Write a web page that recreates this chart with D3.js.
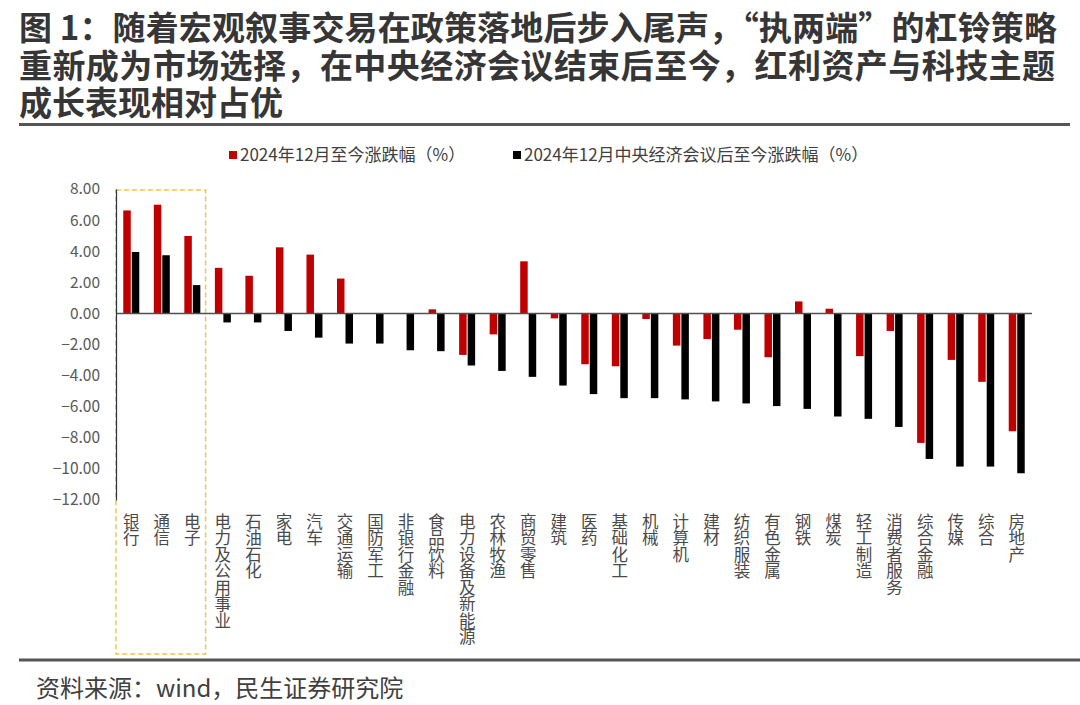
<!DOCTYPE html>
<html><head><meta charset="utf-8">
<script src="https://cdn.jsdelivr.net/npm/d3@7"></script>
<style>
html,body{margin:0;padding:0;background:#fff;}
svg{display:block;font-family:"Noto Sans CJK SC","Noto Sans",sans-serif;}
</style></head>
<body>
<svg id="chart" width="1080" height="705"></svg>
<script>
const categories = ["银行","通信","电子","电力及公用事业","石油石化","家电","汽车","交通运输","国防军工","非银行金融","食品饮料","电力设备及新能源","农林牧渔","商贸零售","建筑","医药","基础化工","机械","计算机","建材","纺织服装","有色金属","钢铁","煤炭","轻工制造","消费者服务","综合金融","传媒","综合","房地产"];
const sinceDec = [6.62,6.99,4.98,2.93,2.42,4.25,3.78,2.24,0.00,0.00,0.26,-2.67,-1.35,3.35,-0.32,-3.27,-3.40,-0.36,-2.07,-1.65,-1.05,-2.82,0.77,0.30,-2.75,-1.13,-8.33,-2.99,-4.40,-7.58];
const sinceCEWC = [3.95,3.74,1.82,-0.58,-0.58,-1.13,-1.56,-1.94,-1.94,-2.37,-2.43,-3.35,-3.70,-4.08,-4.64,-5.19,-5.45,-5.45,-5.53,-5.66,-5.79,-5.96,-6.14,-6.63,-6.78,-7.30,-9.36,-9.85,-9.85,-10.28];
const seriesNames = ["2024年12月至今涨跌幅（%）","2024年12月中央经济会议后至今涨跌幅（%）"];
const yTicks = [8,6,4,2,0,-2,-4,-6,-8,-10,-12];
const titleLines = ["图 1：随着宏观叙事交易在政策落地后步入尾声，“执两端”的杠铃策略","重新成为市场选择，在中央经济会议结束后至今，红利资产与科技主题","成长表现相对占优"];
const highlighted = ["银行","通信","电子"];
const sourceText = "资料来源：wind，民生证券研究院";

const svg = d3.select("#chart");
const colors = ["#c00000","#000000"];

// Title (one text block, three lines)
const titleBase = [40, 78, 115];
const titleLen = [1038, 1036, null];
const title = svg.append("text")
  .attr("font-size", 33).attr("font-weight", 700).attr("fill", "#363636");
title.selectAll("tspan").data(titleLines).join("tspan")
  .attr("x", 19).attr("y", (d,i)=>titleBase[i])
  .each(function(d,i){ if (titleLen[i]) d3.select(this).attr("textLength", titleLen[i]).attr("lengthAdjust","spacing"); })
  .text(d=>d);
svg.append("line").attr("x1",19).attr("x2",1070).attr("y1",124.5).attr("y2",124.5)
  .attr("stroke","#555").attr("stroke-width",3);

// Scales
const x = d3.scaleBand().domain(categories).range([116, 1032]).padding(0);
const sub = d3.scaleBand().domain([0,1]).range([-8, 8]).paddingInner(0.12);
const y = d3.scaleLinear().domain([-12, 8]).range([500, 189]);

// Highlight box
const bx0 = x(highlighted[0]);
const bx1 = x(highlighted[highlighted.length-1]) + x.bandwidth() - 2;
svg.append("rect").attr("x", bx0).attr("y", y(8)+1).attr("width", bx1-bx0).attr("height", 654-(y(8)+1))
  .attr("fill","none").attr("stroke","#eec353").attr("stroke-width",1.5).attr("stroke-dasharray","5,3");

// Bars
const series = [sinceDec, sinceCEWC];
series.forEach((vals, si) => {
  svg.append("g").selectAll("rect").data(vals).join("rect")
    .attr("x", (d,i)=> x(categories[i]) + x.bandwidth()/2 + sub(si))
    .attr("width", sub.bandwidth())
    .attr("y", d => y(Math.max(0,d)))
    .attr("height", d => Math.abs(y(d)-y(0)))
    .attr("fill", colors[si]);
});

// Zero line
svg.append("line").attr("x1",116).attr("x2",1032).attr("y1",y(0)).attr("y2",y(0))
  .attr("stroke","#505050").attr("stroke-width",1.5);

// Y axis
const yAxis = d3.axisLeft(y).tickValues(yTicks).tickFormat(d3.format(".2f")).tickSize(0).tickPadding(16);
const gy = svg.append("g").attr("transform","translate(116,0)").call(yAxis);
gy.select(".domain").attr("stroke","#333").attr("stroke-width",1.2);
gy.selectAll("text").attr("font-size",15.5).attr("fill","#595959").attr("font-family","\"Noto Sans CJK SC\",sans-serif");

// X labels (vertical)
svg.append("g").selectAll("text").data(categories).join("text")
  .attr("x", d=> x(d)+x.bandwidth()/2)
  .attr("y", 513)
  .attr("font-size", 16.5)
  .attr("fill", "#4a4a4a")
  .style("writing-mode","vertical-rl")
  .style("text-orientation","upright")
  .text(d=>d);

// Legend
const legX = [229, 513];
const lg = svg.append("g").selectAll("g").data(seriesNames).join("g")
  .attr("transform",(d,i)=>`translate(${legX[i]},155)`);
lg.append("rect").attr("x",0).attr("y",-4).attr("width",8).attr("height",8).attr("fill",(d,i)=>colors[i]);
lg.append("text").attr("x",11).attr("y",6).attr("font-size",17).attr("fill","#404040").text(d=>d);

// Source
svg.append("line").attr("x1",19).attr("x2",1080).attr("y1",660).attr("y2",660)
  .attr("stroke","#555").attr("stroke-width",3);
svg.append("text").attr("x",36).attr("y",697).attr("font-size",24).attr("fill","#404040").text(sourceText);
</script>
</body></html>
